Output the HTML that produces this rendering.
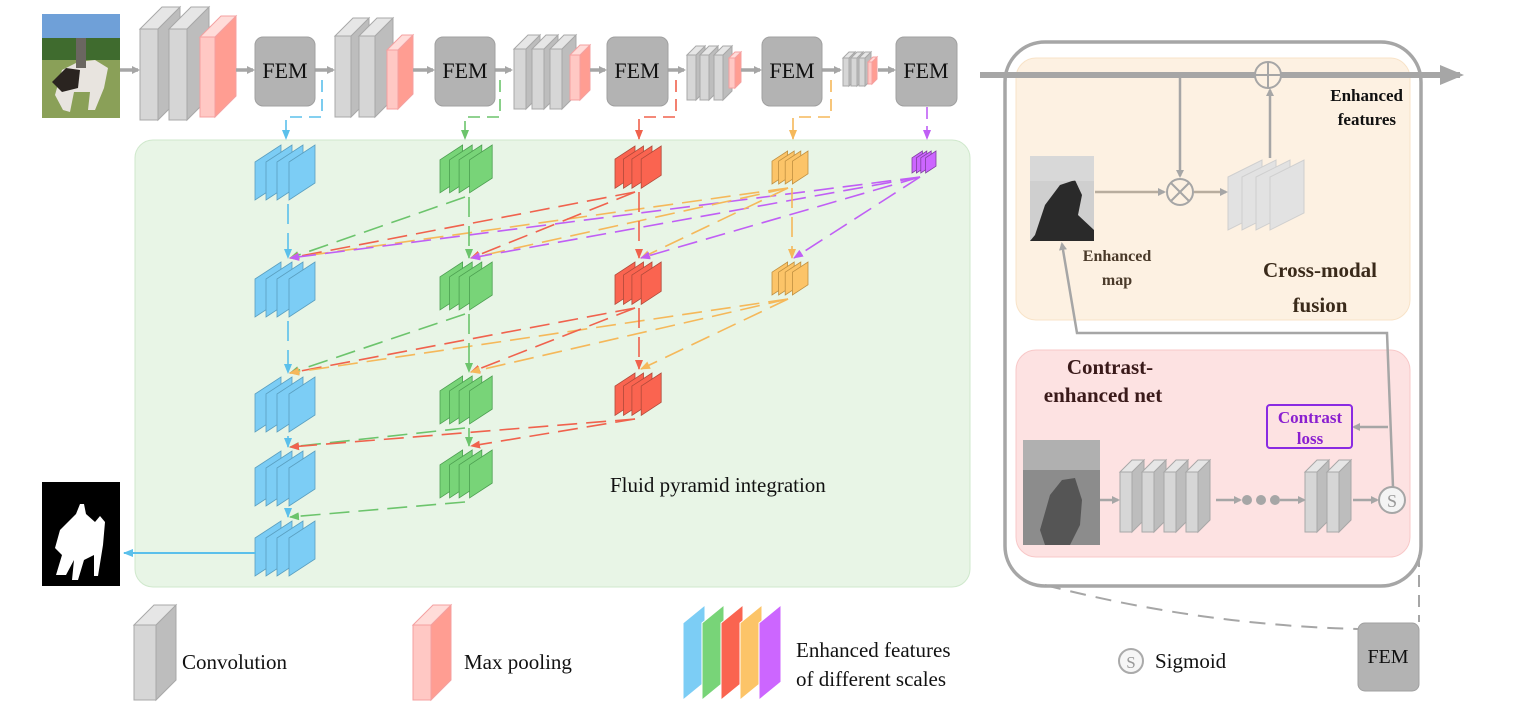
<!DOCTYPE html>
<html><head><meta charset="utf-8"><style>
html,body{margin:0;padding:0;background:#fff;}
svg{display:block;}
.t{font-family:"Liberation Serif",serif;}
</style></head><body>
<svg id="s" width="1514" height="702" viewBox="0 0 1514 702" xmlns="http://www.w3.org/2000/svg">
<defs>
<marker id="ag" markerWidth="8" markerHeight="8" refX="6" refY="4" orient="auto" markerUnits="userSpaceOnUse"><path d="M0,0 L8,4 L0,8 Z" fill="#a6a6a6"/></marker>
<marker id="agb" markerWidth="24" markerHeight="20" refX="20" refY="10" orient="auto" markerUnits="userSpaceOnUse"><path d="M0,0 L24,10 L0,20 Z" fill="#a6a6a6"/></marker>
<marker id="mb" markerWidth="10" markerHeight="8" refX="9" refY="4" orient="auto" markerUnits="userSpaceOnUse"><path d="M0,0 L10,4 L0,8 Z" fill="#5bc0eb"/></marker>
<marker id="mg" markerWidth="10" markerHeight="8" refX="9" refY="4" orient="auto" markerUnits="userSpaceOnUse"><path d="M0,0 L10,4 L0,8 Z" fill="#6cc46c"/></marker>
<marker id="mr" markerWidth="10" markerHeight="8" refX="9" refY="4" orient="auto" markerUnits="userSpaceOnUse"><path d="M0,0 L10,4 L0,8 Z" fill="#f0624d"/></marker>
<marker id="mo" markerWidth="10" markerHeight="8" refX="9" refY="4" orient="auto" markerUnits="userSpaceOnUse"><path d="M0,0 L10,4 L0,8 Z" fill="#f5b85a"/></marker>
<marker id="mp" markerWidth="10" markerHeight="8" refX="9" refY="4" orient="auto" markerUnits="userSpaceOnUse"><path d="M0,0 L10,4 L0,8 Z" fill="#c05ff5"/></marker>
</defs>

<!-- panels -->
<rect x="135" y="140" width="835" height="447" rx="18" fill="#e8f5e6" stroke="#cfe8cc" stroke-width="1"/>
<rect x="1016" y="58" width="394" height="262" rx="20" fill="#fdf1e2" stroke="#f8e3c8"/>
<rect x="1016" y="350" width="394" height="207" rx="20" fill="#fde2e2" stroke="#f8c8c8"/>
<rect x="1005" y="42" width="416" height="544" rx="40" fill="none" stroke="#a6a6a6" stroke-width="3.5"/>

<!-- photo -->
<g>
<rect x="42" y="14" width="78" height="104" fill="#6fa0d8"/>
<rect x="42" y="38" width="78" height="22" fill="#3f6b2e"/>
<rect x="42" y="60" width="78" height="58" fill="#8aa058"/>
<path d="M55,95 L62,70 L78,62 L95,60 L108,68 L104,88 L95,110 L88,110 L90,92 L74,92 L70,112 L63,110 Z" fill="#e8e4df"/>
<path d="M52,82 L66,68 L80,70 L78,88 L62,92 Z" fill="#2a2420"/>
<rect x="76" y="38" width="10" height="30" fill="#6a6660"/>
</g>
<!-- mask -->
<rect x="42" y="482" width="78" height="104" fill="#000"/>
<path d="M80,504 L84,504 L86,514 L95,522 L100,516 L105,522 L103,545 L98,576 L94,576 L94,555 L84,560 L78,580 L72,580 L74,560 L66,575 L56,575 L62,555 L55,548 L60,530 L68,522 L76,514 Z" fill="#fff"/>

<g id="shapes"></g>

<!-- FEM boxes -->
<g class="t" font-size="22" text-anchor="middle" fill="#111">
<rect x="255" y="37" width="60" height="69" rx="8" fill="#b3b3b3" stroke="#a0a0a0"/><text x="285" y="78">FEM</text>
<rect x="435" y="37" width="60" height="69" rx="8" fill="#b3b3b3" stroke="#a0a0a0"/><text x="465" y="78">FEM</text>
<rect x="607" y="37" width="61" height="69" rx="8" fill="#b3b3b3" stroke="#a0a0a0"/><text x="637" y="78">FEM</text>
<rect x="762" y="37" width="60" height="69" rx="8" fill="#b3b3b3" stroke="#a0a0a0"/><text x="792" y="78">FEM</text>
<rect x="896" y="37" width="61" height="69" rx="8" fill="#b3b3b3" stroke="#a0a0a0"/><text x="926" y="78">FEM</text>
<rect x="1358" y="623" width="61" height="68" rx="7" fill="#b3b3b3" stroke="#a0a0a0"/><text x="1388" y="663" font-size="20">FEM</text>
</g>

<!-- big arrow -->
<line x1="980" y1="75" x2="1460" y2="75" stroke="#a6a6a6" stroke-width="6" marker-end="url(#agb)"/>
<circle cx="1268" cy="75" r="13" fill="#fdf1e2" stroke="#a6a6a6" stroke-width="2"/>
<line x1="1255" y1="75" x2="1281" y2="75" stroke="#a6a6a6" stroke-width="2"/>
<line x1="1268" y1="62" x2="1268" y2="88" stroke="#a6a6a6" stroke-width="2"/>

<!-- enhanced map -->
<rect x="1030" y="156" width="64" height="85" fill="#cfcfcf"/>
<path d="M1035,235 L1045,205 L1060,185 L1075,180 L1082,195 L1078,215 L1094,230 L1094,241 L1030,241 Z" fill="#2a2a2a"/>
<rect x="1030" y="156" width="64" height="25" fill="#dedede" opacity="0.6"/>
<line x1="1095" y1="192" x2="1164" y2="192" stroke="#b8ad9e" stroke-width="2.5" marker-end="url(#ag)"/>
<line x1="1180" y1="78" x2="1180" y2="176" stroke="#a6a6a6" stroke-width="2.5" marker-end="url(#ag)"/>
<circle cx="1180" cy="192" r="13" fill="#fdf1e2" stroke="#a6a6a6" stroke-width="2"/>
<line x1="1171" y1="183" x2="1189" y2="201" stroke="#a6a6a6" stroke-width="2"/>
<line x1="1189" y1="183" x2="1171" y2="201" stroke="#a6a6a6" stroke-width="2"/>
<line x1="1194" y1="192" x2="1226" y2="192" stroke="#b8ad9e" stroke-width="2.5" marker-end="url(#ag)"/>
<line x1="1270" y1="158" x2="1270" y2="90" stroke="#a6a6a6" stroke-width="2.5" marker-end="url(#ag)"/>

<!-- feedback line -->
<polyline points="1393,487 1387,333 1077,333 1062,244" fill="none" stroke="#a6a6a6" stroke-width="2.5" marker-end="url(#ag)"/>
<line x1="1388" y1="427" x2="1354" y2="427" stroke="#a6a6a6" stroke-width="2.5" marker-end="url(#ag)"/>
<rect x="1267" y="405" width="85" height="43" rx="3" fill="#fde2e2" stroke="#8a2be2" stroke-width="2"/>
<g class="t" font-weight="bold" font-size="17" fill="#8a1fd0" text-anchor="middle"><text x="1310" y="423">Contrast</text><text x="1310" y="444">loss</text></g>

<!-- depth image -->
<rect x="1023" y="440" width="77" height="105" fill="#8c8c8c"/>
<rect x="1023" y="440" width="77" height="30" fill="#b0b0b0"/>
<path d="M1040,530 L1050,495 L1062,480 L1075,478 L1082,500 L1080,525 L1070,545 L1045,545 Z" fill="#555"/>
<line x1="1100" y1="500" x2="1118" y2="500" stroke="#a6a6a6" stroke-width="2.5" marker-end="url(#ag)"/>
<line x1="1216" y1="500" x2="1240" y2="500" stroke="#a6a6a6" stroke-width="2.5" marker-end="url(#ag)"/>
<circle cx="1247" cy="500" r="5" fill="#a6a6a6"/><circle cx="1261" cy="500" r="5" fill="#a6a6a6"/><circle cx="1275" cy="500" r="5" fill="#a6a6a6"/>
<line x1="1280" y1="500" x2="1304" y2="500" stroke="#a6a6a6" stroke-width="2.5" marker-end="url(#ag)"/>
<line x1="1353" y1="500" x2="1377" y2="500" stroke="#a6a6a6" stroke-width="2.5" marker-end="url(#ag)"/>
<circle cx="1392" cy="500" r="13" fill="#f4f4f4" stroke="#a6a6a6" stroke-width="2"/>
<text x="1392" y="507" class="t" font-size="18" fill="#999" text-anchor="middle">S</text>

<!-- dashed zoom connectors -->
<path d="M1045,585 Q1200,625 1358,629" fill="none" stroke="#a6a6a6" stroke-width="2" stroke-dasharray="16 10"/>
<line x1="1419" y1="555" x2="1419" y2="622" stroke="#a6a6a6" stroke-width="2" stroke-dasharray="12 8"/>

<!-- output arrow -->
<line x1="256" y1="553" x2="124" y2="553" stroke="#5bc0eb" stroke-width="2" marker-end="url(#mb)"/>

<!-- texts -->
<g class="t" fill="#111">
<text x="610" y="492" font-size="21">Fluid pyramid integration</text>
<text x="182" y="669" font-size="21">Convolution</text>
<text x="464" y="669" font-size="21">Max pooling</text>
<text x="796" y="657" font-size="21">Enhanced features</text>
<text x="796" y="686" font-size="21">of different scales</text>
<text x="1155" y="668" font-size="21">Sigmoid</text>
</g>
<circle cx="1131" cy="661" r="12" fill="#f6f6f6" stroke="#aaa" stroke-width="2"/>
<text x="1131" y="668" class="t" font-size="17" fill="#999" text-anchor="middle">S</text>
<g class="t" font-weight="bold">
<text x="1403" y="101" font-size="17" text-anchor="end" fill="#111">Enhanced</text>
<text x="1396" y="125" font-size="17" text-anchor="end" fill="#111">features</text>
<text x="1117" y="261" font-size="16" text-anchor="middle" fill="#4a3a2a">Enhanced</text>
<text x="1117" y="285" font-size="16" text-anchor="middle" fill="#4a3a2a">map</text>
<text x="1320" y="277" font-size="21" text-anchor="middle" fill="#3a2a1a">Cross-modal</text>
<text x="1320" y="312" font-size="21" text-anchor="middle" fill="#3a2a1a">fusion</text>
<text x="1110" y="374" font-size="21" text-anchor="middle" fill="#3a1a1a">Contrast-</text>
<text x="1103" y="402" font-size="21" text-anchor="middle" fill="#3a1a1a">enhanced net</text>
</g>
</svg>
<script>
var out=[];
function slab(x,y,w,h,d,pink){
 var f=pink?'#ffc8c4':'#d6d6d6',sd=pink?'#ff9d92':'#bdbdbd',tp=pink?'#ffdcd9':'#e6e6e6',st=pink?'#f4a0a0':'#a8a8a8';
 out.push('<polygon points="'+(x+w)+','+y+' '+(x+w+d)+','+(y-d)+' '+(x+w+d)+','+(y+h-d)+' '+(x+w)+','+(y+h)+'" fill="'+sd+'" stroke="'+st+'"/>');
 out.push('<polygon points="'+x+','+y+' '+(x+d)+','+(y-d)+' '+(x+w+d)+','+(y-d)+' '+(x+w)+','+y+'" fill="'+tp+'" stroke="'+st+'"/>');
 out.push('<rect x="'+x+'" y="'+y+'" width="'+w+'" height="'+h+'" fill="'+f+'" stroke="'+st+'"/>');
}
function ar(x1,x2,y){out.push('<line x1="'+x1+'" y1="'+y+'" x2="'+x2+'" y2="'+y+'" stroke="#a6a6a6" stroke-width="3.5" marker-end="url(#ag)"/>');}
// top backbone
slab(140,29,18,91,22);slab(169,29,18,91,22);slab(200,37,15,80,21,1);
slab(335,36,16,81,18);slab(359,36,16,81,18);slab(387,50,11,59,15,1);
slab(514,49,12,60,14);slab(532,49,12,60,14);slab(550,49,12,60,14);slab(570,55,10,45,10,1);
slab(687,55,9,45,9);slab(700,55,9,45,9);slab(714,55,9,45,9);slab(729,58,6,30,6,1);
slab(843,58,6,28,6);slab(851,58,6,28,6);slab(859,58,6,28,6);slab(868,62,4,22,5,1);
ar(120,138,70);ar(236,253,70);ar(315,333,70);ar(413,433,70);ar(495,511,70);ar(590,605,70);ar(668,684,70);ar(741,760,70);ar(822,840,70);ar(878,894,70);
// legend slabs
slab(134,625,22,75,20);slab(413,625,18,75,20,1);
// CE net slabs
slab(1120,472,12,60,12);slab(1142,472,12,60,12);slab(1164,472,12,60,12);slab(1186,472,12,60,12);
slab(1305,472,12,60,12);slab(1327,472,12,60,12);
// fusion stack (light)
[1228,1242,1256,1270].forEach(function(x){out.push('<polygon points="'+x+',177 '+(x+34)+',160 '+(x+34)+',213 '+x+',230" fill="#e2e2e2" stroke="#cfcfcf"/>');});
// feature stacks
var C={b:['#7ccdf5','#5a9fc0','#5bc0eb','mb'],g:['#78d478','#4c9f50','#6cc46c','mg'],r:['#fa6450','#b04a3a','#f0624d','mr'],o:['#fcc468','#c09040','#f5b85a','mo'],p:['#cc66ff','#8040a0','#c05ff5','mp']};
function stack(x,y,s,c){
 var o=[0,11,22,34];
 o.forEach(function(ox){
  var X=function(v){return (x+v*s).toFixed(1)},Y=function(v){return (y+v*s).toFixed(1)};
  out.push('<polygon points="'+X(ox)+','+Y(17)+' '+X(ox+26)+','+Y(0)+' '+X(ox+26)+','+Y(38)+' '+X(ox)+','+Y(55)+'" fill="'+C[c][0]+'" stroke="'+C[c][1]+'" stroke-width="0.8"/>');
 });
}
var cols=[['b',255,1.0,[145,262,377,451,521]],['g',440,0.87,[145,262,376,450]],['r',615,0.77,[146,262,373]],['o',772,0.6,[151,262]],['p',912,0.4,[151]]];
// lines
function L(x1,y1,x2,y2,c){out.push('<line x1="'+x1+'" y1="'+y1+'" x2="'+x2+'" y2="'+y2+'" stroke="'+C[c][2]+'" stroke-width="1.6" stroke-dasharray="20 9" marker-end="url(#'+C[c][3]+')"/>');}
var cx=[288,469,639,792,924];
for(var i=1;i<5;i++){
 for(var j=0;j<cols.length;j++){
  var cj=cols[j]; if(cj[3].length<=i) continue;
  var ty=cj[3][i]-4;
  for(var k=j;k<cols.length;k++){
   var ck=cols[k]; if(ck[3].length<=i-1) continue;
   var sy=ck[3][i-1]+55*ck[2];
   var sx=k==j?cx[k]:cx[k]-4;
   L(sx,Math.round(sy+4),cx[j]+(k==j?0:2),ty,ck[0]);
  }
 }
}
cols.forEach(function(c){c[3].forEach(function(y){stack(c[1],y,c[2],c[0]);});});
// FEM -> column connectors
function F(p,c){out.push('<polyline points="'+p+'" fill="none" stroke="'+C[c][2]+'" stroke-width="1.6" stroke-dasharray="12 7" marker-end="url(#'+C[c][3]+')"/>');}
F('322,80 322,117 286,117 286,139','b');F('500,80 500,117 465,117 465,139','g');F('676,80 676,117 639,117 639,139','r');F('831,80 831,117 793,117 793,139','o');F('927,107 927,139','p');
// legend feature slabs
var lc=['b','g','r','o','p'];
lc.forEach(function(c,i){var x=683+i*19;out.push('<polygon points="'+x+',623 '+(x+22)+',605 '+(x+22)+',682 '+x+',700" fill="'+C[c][0]+'" stroke="#fff" stroke-width="1"/>');});
document.getElementById('shapes').innerHTML=out.join('');
</script>
</body></html>
